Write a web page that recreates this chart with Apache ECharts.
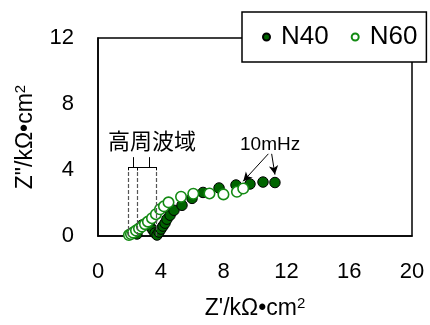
<!DOCTYPE html>
<html><head><meta charset="utf-8">
<script src="https://cdn.jsdelivr.net/npm/echarts@6/dist/echarts.min.js"></script>
<style>html,body{margin:0;padding:0;background:#fff}#c{width:430px;height:325px}</style>
</head><body><div id="c"></div>
<script>
const seriesNames = ['N40', 'N60'];
const n40X = [2.48, 2.61, 2.80, 3.06, 3.31, 3.50, 3.63, 3.76, 3.89, 4.01, 4.14, 4.27, 4.39, 4.59, 4.84, 5.35, 5.99, 6.69, 7.71, 8.79, 9.68, 10.51, 11.27];
const n40Y = [0.12, 0.42, 0.66, 0.72, 0.60, 0.36, 0.18, 0.06, 0.24, 0.42, 0.60, 0.78, 1.02, 1.26, 1.56, 1.86, 2.28, 2.64, 2.91, 3.09, 3.15, 3.27, 3.24];
const n60X = [1.97, 2.10, 2.23, 2.42, 2.61, 2.80, 2.99, 3.18, 3.44, 3.69, 3.95, 4.20, 4.49, 5.29, 6.07, 7.10, 7.99, 8.85, 9.25];
const n60Y = [0.06, 0.12, 0.21, 0.33, 0.45, 0.57, 0.72, 0.87, 1.08, 1.32, 1.62, 1.80, 2.04, 2.38, 2.56, 2.58, 2.52, 2.68, 2.88];
const xTicks = [0, 4, 8, 12, 16, 20];
const yTicks = [0, 4, 8, 12];
// annotation: high-frequency region boundaries (Z') and brace ticks
const hfBounds = [1.93, 2.50, 3.74];
const hfTicks = [2.22, 3.27];
const hfLevels = {dashTop: 3.98, bar: 4.18, tickTop: 4.78};
// 10mHz arrows: start and end points
const arrowStart = [[10.85, 4.98], [11.06, 4.98]];
const arrowEnd = [[9.25, 3.32], [11.27, 3.72]];

const F = 'Liberation Sans, Arial, sans-serif';
const zip = (a, b) => a.map((v, i) => [v, b[i]]);

const marks = [];
hfBounds.forEach(x => marks.push([{coord: [x, 0]}, {coord: [x, hfLevels.dashTop]}]));
const solid = [];
for (let i = 0; i < hfBounds.length - 1; i++) {
  const a = hfBounds[i], b = hfBounds[i + 1];
  solid.push([{coord: [a, hfLevels.dashTop]}, {coord: [a, hfLevels.bar]}]);
  solid.push([{coord: [a, hfLevels.bar]}, {coord: [b, hfLevels.bar]}]);
  solid.push([{coord: [b, hfLevels.bar]}, {coord: [b, hfLevels.dashTop]}]);
  solid.push([{coord: [hfTicks[i], hfLevels.bar]}, {coord: [hfTicks[i], hfLevels.tickTop]}]);
}
const arrows = arrowStart.map((s, i) => [{coord: s}, {coord: arrowEnd[i]}]);
const rich = {s: {fontFamily: F, fontSize: 15, color: '#000', verticalAlign: 'top', padding: [0, 0, 10, 0]}};

const chart = echarts.init(document.getElementById('c'), null, {renderer: 'canvas'});
chart.setOption({
  animation: false,
  backgroundColor: '#fff',
  grid: {left: 98, right: 18, top: 38, bottom: 87, show: true, borderColor: '#000', borderWidth: 1.5, backgroundColor: 'transparent'},
  legend: {
    data: seriesNames, left: 242, top: 12, padding: [11, 9, 11, 20],
    borderColor: '#000', borderWidth: 1.5, backgroundColor: '#fff', borderRadius: 0,
    itemWidth: 7, itemHeight: 7, itemGap: 22,
    textStyle: {fontFamily: F, fontSize: 26, color: '#000', padding: [0, 0, 0, 6], lineHeight: 28}
  },
  xAxis: {
    type: 'value', min: xTicks[0], max: xTicks[xTicks.length - 1], interval: 4,
    axisLine: {lineStyle: {color: '#000', width: 1.5}}, axisTick: {show: false}, splitLine: {show: false},
    axisLabel: {fontFamily: F, fontSize: 22, color: '#000', margin: 25},
    name: "Z'/kΩ•cm{s|2}", nameLocation: 'middle', nameGap: 60,
    nameTextStyle: {fontFamily: F, fontSize: 23, color: '#000', rich: rich}
  },
  yAxis: {
    type: 'value', min: yTicks[0], max: yTicks[yTicks.length - 1], interval: 4,
    axisLine: {show: true, lineStyle: {color: '#000', width: 1.5}}, axisTick: {show: false}, splitLine: {show: false},
    axisLabel: {fontFamily: F, fontSize: 22, color: '#000', margin: 24},
    name: 'Z"/kΩ•cm{s|2}', nameLocation: 'middle', nameGap: 60, nameRotate: 90,
    nameTextStyle: {fontFamily: F, fontSize: 23, color: '#000', rich: rich}
  },
  series: [
    {name: seriesNames[0], type: 'scatter', symbol: 'circle', symbolSize: 10.5, z: 3,
     itemStyle: {color: '#006400', borderColor: '#000', borderWidth: 1, opacity: 1},
     data: zip(n40X, n40Y)},
    {name: seriesNames[1], type: 'scatter', symbol: 'circle', symbolSize: 10.5, z: 4,
     itemStyle: {color: '#fff', borderColor: '#138a13', borderWidth: 1.6, opacity: 1},
     data: zip(n60X, n60Y)},
    {name: 'annot-dash', type: 'scatter', data: [], silent: true,
     markLine: {silent: true, symbol: ['none', 'none'], label: {show: false}, animation: false,
       lineStyle: {type: [4, 2], color: '#555', width: 1.2}, data: marks}},
    {name: 'annot-brace', type: 'scatter', data: [], silent: true,
     markLine: {silent: true, symbol: ['none', 'none'], label: {show: false}, animation: false,
       lineStyle: {type: 'solid', color: '#000', width: 1}, data: solid}},
    {name: 'annot-arrow', type: 'scatter', data: [], silent: true,
     markLine: {silent: true, symbol: ['none', 'arrow'], symbolSize: [7, 9], label: {show: false}, animation: false,
       lineStyle: {type: 'solid', color: '#000', width: 1}, data: arrows}}
  ],
  graphic: [
    {type: 'text', left: 108, top: 130, style: {text: '高周波域', font: '22px "Noto Sans CJK JP"', fill: '#000'}},
    {type: 'text', left: 240, top: 135, style: {text: '10mHz', font: '19px "Liberation Sans"', fill: '#000'}}
  ]
});
</script></body></html>
